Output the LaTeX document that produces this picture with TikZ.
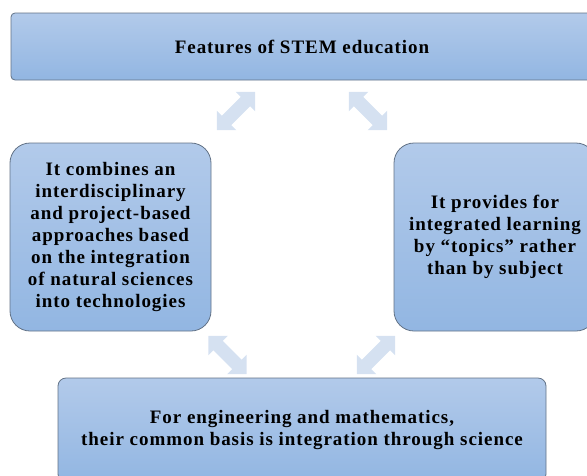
\documentclass[tikz,border=0pt]{standalone}
\usepackage{fontspec}
\setmainfont{Liberation Serif}[LetterSpace=5]
\usetikzlibrary{shapes.arrows}
\definecolor{boxtop}{RGB}{178,202,234}
\definecolor{boxbot}{RGB}{146,182,226}
\definecolor{boxline}{RGB}{98,114,134}
\definecolor{arrowfill}{RGB}{213,225,241}
\tikzset{
  featbox/.style={draw=boxline, line width=0.8pt, top color=boxtop, bottom color=boxbot,
    align=center, font=\bfseries\fontsize{19}{22}\selectfont, inner sep=0pt},
  linkarrow/.style={double arrow, fill=arrowfill, draw=none, minimum height=54pt,
    inner xsep=0pt, inner ysep=6.5pt, double arrow head extend=7pt}
}
\begin{document}
\begin{tikzpicture}[x=1pt,y=-1pt]
  \useasboundingbox (0,0) rectangle (587,475);
  % boxes
  \node[featbox, rounded corners=4pt, minimum width=582pt, minimum height=67pt]
    (top) at (302,46.5) {Features of STEM education};
  \node[featbox, rounded corners=20pt, minimum width=201pt, minimum height=188pt]
    (left) at (110.5,237) {It combines an\\interdisciplinary\\and project-based\\approaches based\\on the integration\\of natural sciences\\into technologies};
  \node[featbox, rounded corners=20pt, minimum width=202pt, minimum height=188pt]
    (right) at (495,237) {It provides for\\integrated learning\\by \textquotedblleft topics\textquotedblright\ rather\\than by subject};
  \node[featbox, rounded corners=8pt, minimum width=488pt, minimum height=104pt]
    (bottom) at (302,430) {For engineering and mathematics,\\their common basis is integration through science};
  % two-way links between the boxes
  \node[linkarrow, rotate=45] (tl) at (236,111) {};
  \node[linkarrow, rotate=-45] (tr) at (368,111) {};
  \node[linkarrow, rotate=-45] (bl) at (227.5,355) {};
  \node[linkarrow, rotate=45] (br) at (376,355) {};
\end{tikzpicture}
\end{document}
